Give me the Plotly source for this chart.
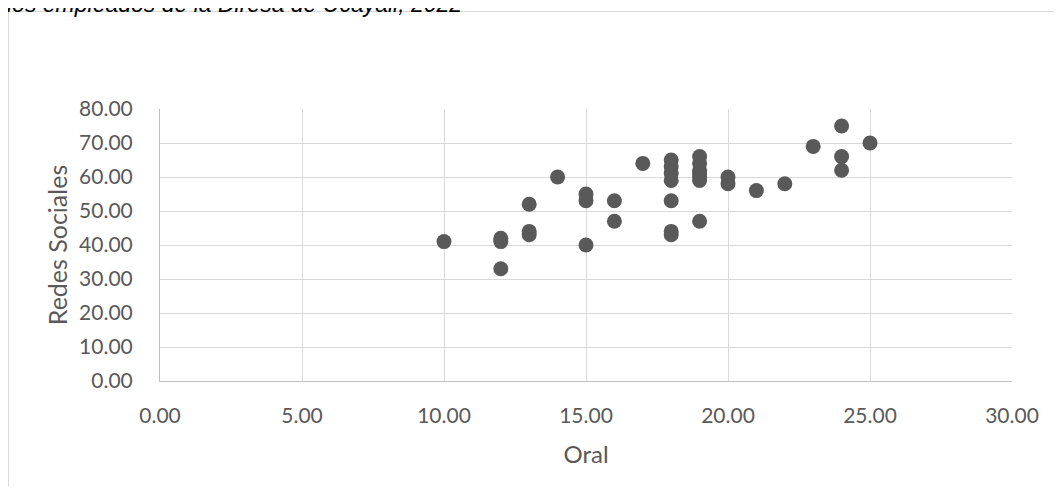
import plotly.graph_objects as go

# Data (Oral vs Redes Sociales)
oral = [10,
        12, 12, 12,
        13, 13, 13,
        14,
        15, 15, 15,
        16, 16,
        17,
        18, 18, 18, 18, 18, 18, 18,
        19, 19, 19, 19, 19, 19, 19,
        20, 20,
        21, 22, 23,
        24, 24, 24,
        25]
redes = [41,
         42, 41, 33,
         52, 44, 43,
         60,
         55, 53, 40,
         53, 47,
         64,
         65, 63, 61, 59, 53, 44, 43,
         66, 64, 62, 61, 60, 59, 47,
         60, 58,
         56, 58, 69,
         75, 66, 62,
         70]

x_ticks = [0, 5, 10, 15, 20, 25, 30]
y_ticks = [0, 10, 20, 30, 40, 50, 60, 70, 80]

title_text = "los empleados de la Diresa de Ucayali, 2022"

# page has an 8px body margin; figure sized to fit inside the window
W, H = 1046, 478
L, R, T, B = 152, 42, 101, 105
pw, ph = W - L - R, H - T - B

def px_x(px):
    return (px - L) / pw

def px_y(py):
    return (H - B - py) / ph

font_family = "Lato, 'Open Sans', sans-serif"
grey = "#595959"

fig = go.Figure()
fig.add_trace(go.Scatter(
    x=oral, y=redes, mode="markers",
    marker=dict(size=15, color="#595959", line=dict(width=0)),
    showlegend=False, hoverinfo="x+y",
))

fig.update_layout(
    width=W, height=H,
    margin=dict(l=L, r=R, t=T, b=B, autoexpand=False),
    paper_bgcolor="white", plot_bgcolor="white",
    font=dict(family=font_family, color=grey, size=21),
    xaxis=dict(
        range=[0, 30], tickvals=x_ticks,
        ticktext=[f"{v:.2f}" for v in x_ticks],
        showgrid=True, gridcolor="#d9d9d9", gridwidth=1,
        zeroline=False, showline=True, linecolor="#bfbfbf", linewidth=1,
        ticks="", ticklabelstandoff=16,
        tickfont=dict(size=21, color=grey, family=font_family),
        title=dict(text="Oral", standoff=19,
                   font=dict(size=24, color=grey, family=font_family)),
        fixedrange=True,
    ),
    yaxis=dict(
        range=[0, 80], tickvals=y_ticks,
        ticktext=[f"{v:.2f}" for v in y_ticks],
        showgrid=True, gridcolor="#d9d9d9", gridwidth=1,
        zeroline=False, showline=True, linecolor="#bfbfbf", linewidth=1,
        ticks="", ticklabelstandoff=22,
        tickfont=dict(size=21, color=grey, family=font_family),
        title=dict(text="Redes Sociales", standoff=4,
                   font=dict(size=25, color=grey, family=font_family)),
        fixedrange=True,
    ),
    shapes=[
        dict(type="line", xref="paper", yref="paper",
             x0=px_x(0.5), x1=px_x(0.5), y0=px_y(H + 20), y1=px_y(3.5),
             line=dict(color="#d9d9d9", width=1), layer="below"),
        dict(type="line", xref="paper", yref="paper",
             x0=px_x(0.5), x1=px_x(W + 20), y0=px_y(3.5), y1=px_y(3.5),
             line=dict(color="#d9d9d9", width=1), layer="below"),
    ],
    annotations=[dict(
        text=title_text, xref="paper", yref="paper",
        x=px_x(-3), y=px_y(11), xanchor="left", yanchor="bottom",
        showarrow=False,
        font=dict(family="Liberation Sans, Arial, sans-serif", size=23,
                  color="black", style="italic"),
    )],
)

fig.write_html("out.html")
